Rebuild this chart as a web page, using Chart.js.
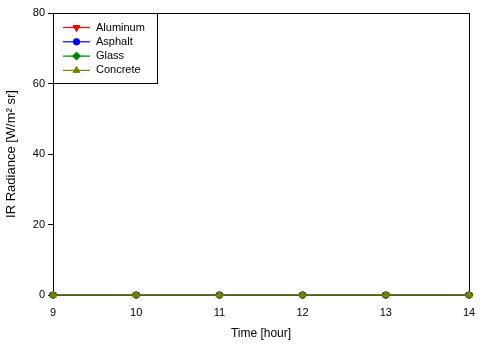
<!DOCTYPE html>
<html>
<head>
<meta charset="UTF-8">
<title>IR Radiance</title>
<script src="https://cdn.jsdelivr.net/npm/chart.js"></script>
<style>
  html, body { margin: 0; padding: 0; background: #fff; }
  #wrap { width: 480px; height: 345px; position: relative; }
</style>
</head>
<body>
<div id="wrap"><canvas id="irChart"></canvas></div>
<script>
// Hours of the day and radiance readings for each surface
const hours = [9, 10, 11, 12, 13, 14];
const aluminum = [0, 0, 0, 0, 0, 0];
const asphalt = [0, 0, 0, 0, 0, 0];
const glass = [0, 0, 0, 0, 0, 0];
const concrete = [0, 0, 0, 0, 0, 0];
const yTicks = [0, 20, 40, 60, 80];

const FONT = 'Liberation Sans, Arial, sans-serif';

function series(label, values, color, style, rotation, radius, order) {
    return {
        label: label,
        data: hours.map((h, i) => ({ x: h, y: values[i] })),
        borderColor: color,
        backgroundColor: color,
        borderWidth: 1.2,
        pointStyle: style,
        pointRadius: radius,
        pointRotation: rotation,
        pointBorderWidth: 1,
        clip: false,
        order: order
    };
}

// higher order is drawn first, so concrete ends up on top
const datasets = [
    series('Aluminum', aluminum, '#ff0000', 'triangle', 180, 4, 4),
    series('Asphalt', asphalt, '#0000ff', 'circle', 0, 3.2, 3),
    series('Glass', glass, '#008000', 'rectRot', 0, 4, 2),
    series('Concrete', concrete, '#808000', 'triangle', 0, 4, 1)
];

// box around the plot area, drawn under the data
const framePlugin = {
    id: 'frame',
    beforeDatasetsDraw(chart) {
        const { ctx, chartArea: a } = chart;
        ctx.save();
        ctx.strokeStyle = '#000';
        ctx.lineWidth = 1;
        ctx.strokeRect(a.left + 0.5, a.top + 0.5, a.right - a.left, a.bottom - a.top);
        ctx.restore();
    }
};

// boxed legend in the upper left corner with line + marker samples
const legendBox = {
    id: 'legendBox',
    afterDraw(chart) {
        const { ctx, chartArea: a } = chart;
        const bx = a.left, by = a.top, bw = 104, bh = 70;
        ctx.save();
        ctx.fillStyle = '#fff';
        ctx.fillRect(bx, by, bw, bh);
        ctx.strokeStyle = '#000';
        ctx.lineWidth = 1;
        ctx.strokeRect(bx + 0.5, by + 0.5, bw, bh);
        ctx.font = '11px ' + FONT;
        ctx.textBaseline = 'middle';
        datasets.forEach((ds, i) => {
            const y = by + 14.5 + i * 14.3;
            ctx.strokeStyle = ds.borderColor;
            ctx.lineWidth = 1.2;
            ctx.beginPath();
            ctx.moveTo(bx + 10, y);
            ctx.lineTo(bx + 37, y);
            ctx.stroke();
            ctx.fillStyle = ds.borderColor;
            ctx.lineWidth = 1;
            Chart.helpers.drawPoint(ctx, {
                pointStyle: ds.pointStyle, radius: ds.pointRadius, rotation: ds.pointRotation, borderWidth: 1
            }, bx + 23.5, y);
            ctx.fillStyle = '#000';
            ctx.fillText(ds.label, bx + 43, y);
        });
        ctx.restore();
    }
};

new Chart(document.getElementById('irChart'), {
    type: 'line',
    data: { datasets: datasets },
    options: {
        responsive: true,
        maintainAspectRatio: false,
        animation: false,
        layout: { padding: { top: 13, right: 11, left: 0, bottom: 0 } },
        plugins: { legend: { display: false }, tooltip: { enabled: false } },
        scales: {
            x: {
                type: 'linear',
                min: hours[0],
                max: hours[hours.length - 1],
                afterBuildTicks: s => { s.ticks = hours.map(v => ({ value: v })); },
                afterFit: s => { s.height = 50; },
                grid: { display: false },
                border: { display: true, color: '#000' },
                ticks: { color: '#000', font: { family: FONT, size: 11 }, padding: 3, maxRotation: 0 },
                title: { display: true, text: 'Time [hour]', color: '#000', font: { family: FONT, size: 12 }, padding: { top: 6 } }
            },
            y: {
                min: yTicks[0],
                max: yTicks[yTicks.length - 1],
                afterBuildTicks: s => { s.ticks = yTicks.map(v => ({ value: v })); },
                afterFit: s => { s.width = 53; },
                grid: { drawOnChartArea: false, drawTicks: true, tickLength: 5, color: '#000' },
                border: { display: true, color: '#000' },
                ticks: { color: '#000', font: { family: FONT, size: 11 }, padding: 3 },
                title: { display: true, text: 'IR Radiance [W/m\u00B2 sr]', color: '#000', font: { family: FONT, size: 13 }, padding: { bottom: 1 } }
            }
        }
    },
    plugins: [framePlugin, legendBox]
});
</script>
</body>
</html>
